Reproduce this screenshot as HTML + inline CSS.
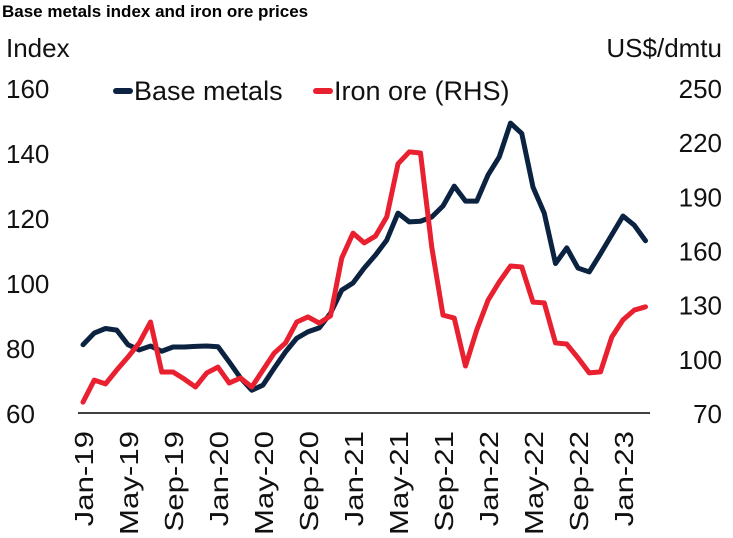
<!DOCTYPE html>
<html><head><meta charset="utf-8"><style>
body{margin:0;background:#fff;}
svg{display:block;font-family:"Liberation Sans",sans-serif;}
</style></head><body>
<svg id="chart" width="733" height="538">
<text x="2" y="17" font-size="17" font-weight="bold" fill="#000">Base metals index and iron ore prices</text>
<text x="6" y="57" font-size="26" fill="#111">Index</text>
<text x="722" y="57" font-size="26" fill="#111" text-anchor="end">US$/dmtu</text>
<g>
<line x1="116" y1="91" x2="130" y2="91" stroke="#0b2340" stroke-width="6" stroke-linecap="round"/>
<text x="134" y="100" font-size="27" fill="#111">Base metals</text>
<line x1="316" y1="91" x2="330" y2="91" stroke="#e8202f" stroke-width="6" stroke-linecap="round"/>
<text x="334" y="100" font-size="27" fill="#111">Iron ore (RHS)</text>
</g>
<g id="axes"></g>
<g id="series"></g>
</svg>
<script>
const months=["Jan","Feb","Mar","Apr","May","Jun","Jul","Aug","Sep","Oct","Nov","Dec"];
const leftTicks=[60,80,100,120,140,160];
const rightTicks=[70,100,130,160,190,220,250];
const baseMetals=[81,84.6,86,85.5,81,79.4,80.6,79,80.3,80.3,80.5,80.6,80.4,75.7,70.8,67,68.6,73.8,78.8,83,85,86.2,90.7,97.8,100,104.6,108.6,113.2,121.5,118.8,119,120.3,123.7,129.8,125.2,125.2,133.2,138.8,149.2,146,129.5,121.5,106,110.8,104.6,103.4,109,114.8,120.6,117.8,113];
const ironOre=[76,88.2,86.1,93.8,101,108.8,120.4,92.7,92.7,88.8,84.4,92.2,95.4,86.6,89.4,84.4,93.8,103.2,108.8,120.4,123.2,119.8,123.8,155.8,169.6,164.2,168,178.6,208,214.6,214,161.9,124.2,122.6,96,116,132.4,142.6,151.4,150.9,131.4,131,108.8,108.2,100.5,92.2,92.8,112,121.6,127,128.8];
const NS="http://www.w3.org/2000/svg";
const x=i=>83+i*11.25;
const yL=v=>413-(v-60)*325/100;
const yR=v=>413-(v-70)*325/180;
const axes=document.getElementById('axes'),series=document.getElementById('series');
function mk(tag,attrs,parent){const e=document.createElementNS(NS,tag);for(const k in attrs)e.setAttribute(k,attrs[k]);parent.appendChild(e);return e;}
const ax=mk('line',{x1:78,y1:413,x2:650,y2:413,stroke:'#000','stroke-width':1.5},axes);


leftTicks.forEach(v=>{const t=mk('text',{x:6,y:yL(v)+10,'font-size':26,fill:'#111'},axes);t.textContent=v;

});
rightTicks.forEach(v=>{const t=mk('text',{x:722,y:yR(v)+10,'font-size':26,fill:'#111','text-anchor':'end'},axes);t.textContent=v;

});
for(let i=0;i<baseMetals.length;i+=4){const yr=19+Math.floor(i/12);const lbl=months[i%12]+"-"+yr;
const t=mk('text',{x:0,y:0,'font-size':26,fill:'#111','text-anchor':'end',transform:`translate(${x(i)+10},431) rotate(-90) scale(1.2,1)`},axes);t.textContent=lbl;

}
const pB=mk('polyline',{points:baseMetals.map((v,i)=>x(i)+','+yL(v)).join(' '),fill:'none',stroke:'#0b2340','stroke-width':5,'stroke-linejoin':'round','stroke-linecap':'round'},series);


const pI=mk('polyline',{points:ironOre.map((v,i)=>x(i)+','+yR(v)).join(' '),fill:'none',stroke:'#e8202f','stroke-width':5,'stroke-linejoin':'round','stroke-linecap':'round'},series);


</script>
</body></html>
